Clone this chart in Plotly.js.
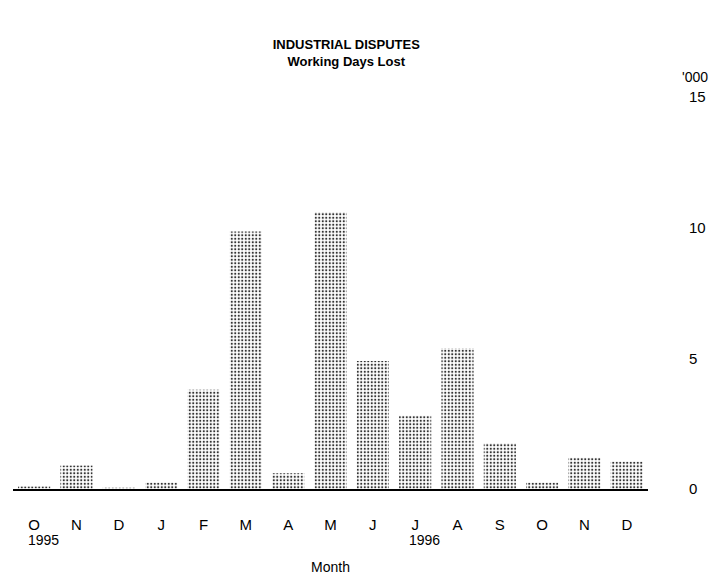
<!DOCTYPE html>
<html>
<head>
<meta charset="utf-8">
<script src="https://cdn.plot.ly/plotly-3.0.1.min.js"></script>
<style>html,body{margin:0;padding:0;background:#fff;}#chart{width:714px;height:575px;}</style>
</head>
<body>
<div id="chart"></div>
<script>
// Month categories (Oct 1995 - Dec 1996)
const categories = ["O95","N95","D95","J96","F96","M96","A96","My96","Jn96","Jl96","Au96","S96","O96","N96","D96"];
const tickLabels = ["O","N","D","J","F","M","A","M","J","J","A","S","O","N","D"];
// Working days lost, thousands
const daysLost = [0.1, 0.9, 0.05, 0.25, 3.8, 9.85, 0.6, 10.6, 4.9, 2.8, 5.4, 1.75, 0.25, 1.2, 1.05];
const yTicks = [0, 5, 10, 15];
const yearLabels = ["1995", "1996"];
const yearPositions = [0, 9];

const font = "Liberation Sans, Arial, Helvetica, sans-serif";

const trace = {
  type: "bar",
  x: categories,
  y: daysLost,
  marker: {
    color: "#ffffff",
    line: {width: 0},
    pattern: {shape: ".", fgcolor: "#333333", bgcolor: "#ffffff", size: 3.5, solidity: 0.3, fillmode: "replace"}
  },
  hoverinfo: "y"
};

const annotations = yearLabels.map((t, i) => ({
  text: t, x: yearPositions[i], xref: "x", y: 0, yref: "paper", yanchor: "middle",
  yshift: -51, xshift: 9, showarrow: false, font: {family: font, size: 14, color: "#000"}
}));
annotations.push({
  text: "'000", xref: "paper", yref: "paper", x: 1.05, y: 1.051,
  xanchor: "left", yanchor: "middle", showarrow: false,
  font: {family: font, size: 14, color: "#000"}
});

const layout = {
  width: 714, height: 575,
  margin: {l: 13, r: 66, t: 97, b: 86},
  paper_bgcolor: "#fff", plot_bgcolor: "#fff",
  showlegend: false,
  bargap: 0.24,
  title: {
    text: "<b>INDUSTRIAL DISPUTES</b><br><b>Working Days Lost</b>",
    x: 0.485, xanchor: "center", y: 1 - 49/575, yanchor: "top", yref: "container",
    font: {family: font, size: 13, color: "#000"}
  },
  xaxis: {
    type: "category",
    tickmode: "array", tickvals: categories, ticktext: tickLabels,
    ticks: "", showgrid: false, zeroline: false,
    showline: true, linecolor: "#000", linewidth: 2,
    ticklabelstandoff: 21,
    tickfont: {family: font, size: 15, color: "#000"},
    title: {text: "Month", font: {family: font, size: 14, color: "#000"}, standoff: 53},
    fixedrange: true
  },
  yaxis: {
    side: "right", range: [0, 15],
    tickmode: "array", tickvals: yTicks, ticktext: yTicks.map(String),
    ticks: "", showgrid: false, zeroline: false, showline: false,
    ticklabelstandoff: 40,
    tickfont: {family: font, size: 15, color: "#000"},
    fixedrange: true
  },
  annotations: annotations
};

Plotly.newPlot("chart", [trace], layout, {displayModeBar: false, staticPlot: true});
</script>
</body>
</html>
